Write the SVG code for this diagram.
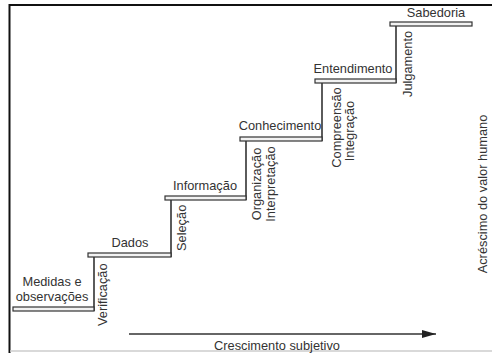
<svg xmlns="http://www.w3.org/2000/svg" width="492" height="353" viewBox="0 0 492 353">
<defs>
<style>
.t{font-family:"Liberation Sans",Arial,sans-serif;font-size:12.8px;fill:#333}
.m{text-anchor:middle}
.tread{fill:#f2f2f2;stroke:#333;stroke-width:1.2}
.riser{stroke:#333;stroke-width:1.6;fill:none}
</style>
<marker id="ah" viewBox="0 0 10 10" refX="10" refY="5" markerWidth="14" markerHeight="8" markerUnits="userSpaceOnUse" orient="auto" preserveAspectRatio="none">
<path d="M0,0 L10,5 L0,10 Z" fill="#222"/>
</marker>
</defs>
<rect x="0" y="0" width="492" height="353" fill="#fff"/>
<g id="frame">
<line x1="9.5" y1="5" x2="492" y2="5" stroke="#111" stroke-width="2"/>
<line x1="9.5" y1="4" x2="9.5" y2="353" stroke="#111" stroke-width="2"/>
<line x1="10" y1="351" x2="492" y2="351" stroke="#ccc" stroke-width="1.5"/>
</g>
<g id="connectors">
<line class="riser" x1="94" y1="257" x2="94" y2="311"/>
<line class="riser" x1="171" y1="200" x2="171" y2="257"/>
<line class="riser" x1="246" y1="141" x2="246" y2="200"/>
<line class="riser" x1="322" y1="83" x2="322" y2="141"/>
<line class="riser" x1="396" y1="26" x2="396" y2="83"/>
<line x1="129" y1="334" x2="436" y2="334" stroke="#333" stroke-width="1.5" marker-end="url(#ah)"/>
</g>
<g id="medidas">
<rect class="tread" x="13" y="307" width="81" height="4"/>
<text class="t m" x="52" y="285.5">Medidas e</text>
<text class="t m" x="52" y="300.5">observações</text>
</g>
<g id="dados">
<rect class="tread" x="88" y="253" width="83" height="4"/>
<text class="t m" x="130" y="247">Dados</text>
</g>
<g id="informacao">
<rect class="tread" x="165" y="196" width="81" height="4"/>
<text class="t m" x="205" y="190">Informação</text>
</g>
<g id="conhecimento">
<rect class="tread" x="240" y="137" width="82" height="4"/>
<text class="t m" x="280" y="130">Conhecimento</text>
</g>
<g id="entendimento">
<rect class="tread" x="315" y="79" width="81" height="4"/>
<text class="t m" x="353" y="73">Entendimento</text>
</g>
<g id="sabedoria">
<rect class="tread" x="390" y="22" width="82" height="4"/>
<text class="t m" x="436" y="17">Sabedoria</text>
</g>
<g id="labels-processos">
<text class="t" transform="translate(107,326) rotate(-90)">Verificação</text>
<text class="t" transform="translate(186,251) rotate(-90)">Seleção</text>
<text class="t m" transform="translate(261,184) rotate(-90)">Organização</text>
<text class="t m" transform="translate(275,184) rotate(-90)">Interpretação</text>
<text class="t m" transform="translate(341,127.5) rotate(-90)">Compreensão</text>
<text class="t m" transform="translate(354,131) rotate(-90)">Integração</text>
<text class="t" transform="translate(412,97) rotate(-90)">Julgamento</text>
</g>
<g id="eixos">
<text class="t m" x="277" y="349.5">Crescimento subjetivo</text>
<text class="t m" transform="translate(487,194) rotate(-90)">Acréscimo do valor humano</text>
</g>
</svg>
